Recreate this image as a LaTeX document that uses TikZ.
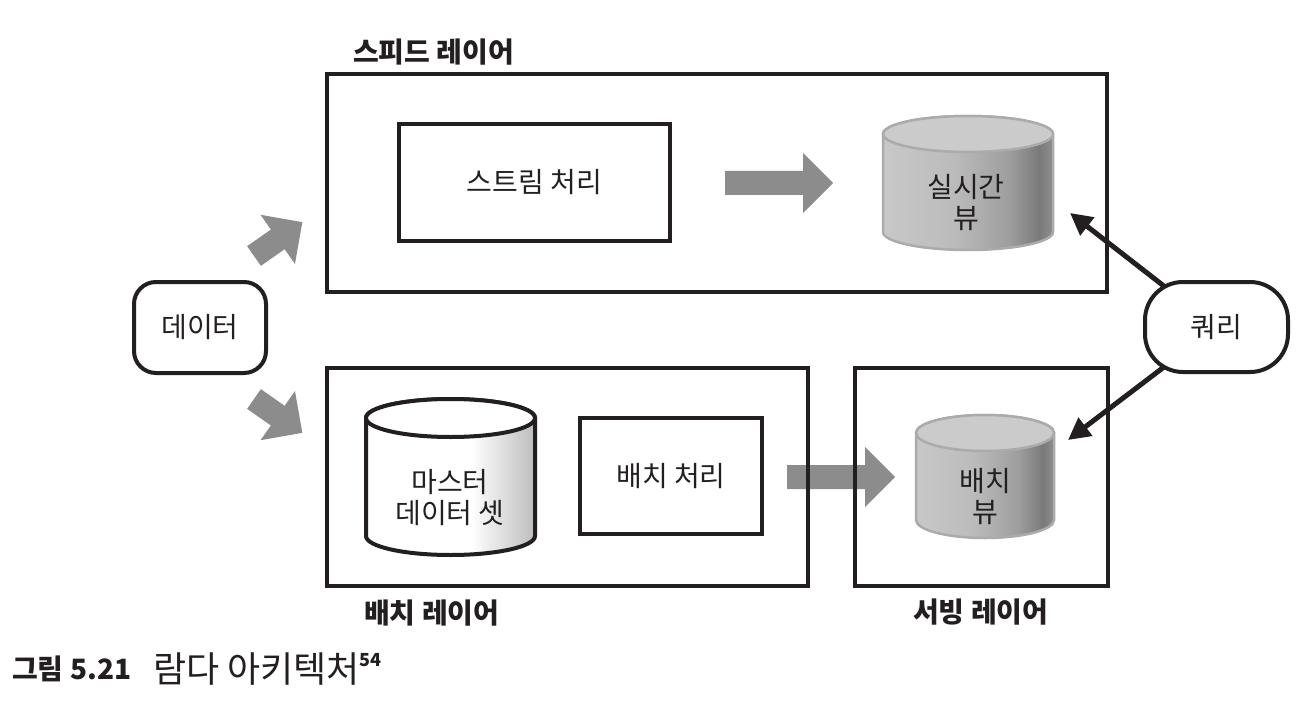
\documentclass[tikz,border=0pt]{standalone}
\usepackage{fontspec}
\setmainfont{Noto Sans CJK KR}
\usetikzlibrary{arrows.meta,backgrounds}
\definecolor{ink}{HTML}{231F20}
\definecolor{garrow}{HTML}{8C8C8C}
\definecolor{cA}{HTML}{C8C8C8}
\definecolor{cB}{HTML}{BBBBBB}
\definecolor{cC}{HTML}{9E9E9E}
\definecolor{cD}{HTML}{7A7A7A}
\definecolor{cE}{HTML}{8E8E8E}
\definecolor{cW}{HTML}{BDBDBD}
\definecolor{ctop}{HTML}{CBCBCB}
\definecolor{cedge}{HTML}{ABABAB}
\pgfdeclarehorizontalshading{greycyl}{100bp}{color(0bp)=(cA); color(25bp)=(cA); color(46bp)=(cB); color(62bp)=(cC); color(71bp)=(cD); color(75bp)=(cE); color(100bp)=(cE)}
\pgfdeclarehorizontalshading{whitecyl}{100bp}{color(0bp)=(white); color(25bp)=(white); color(56bp)=(white); color(75bp)=(cW); color(100bp)=(cW)}
\newcommand\bodyfont{\fontsize{28}{31}\selectfont}
\newcommand\lblfont{\bfseries\fontsize{28}{31}\selectfont}
\newcommand\drawcyl[6]{%
  \path[#6body] ({#1-#4},#2) -- ({#1-#4},#3)
    arc[start angle=180,end angle=360,x radius=#4pt,y radius=#5pt]
    -- ({#1+#4},#2)
    arc[start angle=0,end angle=180,x radius=#4pt,y radius=#5pt] -- cycle;
  \path[#6top] (#1,#2) ellipse[x radius=#4pt,y radius=#5pt];
}
\newcommand\blockarrow[4]{%
  \begin{scope}[shift={(#1,#2)},rotate=#3]
    \fill[garrow] (0,-12) -- ({#4-30},-12) -- ({#4-30},-30) -- (#4,0)
      -- ({#4-30},30) -- ({#4-30},12) -- (0,12) -- cycle;
  \end{scope}}
\tikzset{
  layerbox/.style={draw=ink,line width=4pt,rectangle,inner sep=0pt},
  procbox/.style={draw=ink,line width=4pt,rectangle,align=center,font=\bodyfont,text=ink},
  cyltext/.style={align=center,font=\bodyfont,text=ink,inner sep=0pt},
  lbl/.style={font=\lblfont,text=ink,inner sep=0pt,anchor=west},
  gcylbody/.style={shading=greycyl,draw=cedge,line width=2.5pt},
  gcyltop/.style={fill=ctop,draw=cedge,line width=2.5pt},
  wcylbody/.style={shading=whitecyl,draw=ink,line width=4pt},
  wcyltop/.style={fill=white,draw=ink,line width=4pt},
  qarrow/.style={draw=ink,line width=5pt,-{Triangle[length=22pt,width=22pt]}},
  roundbox/.style={draw=ink,fill=white,line width=4pt,align=center,font=\bodyfont,text=ink}
}
\begin{document}
\begin{tikzpicture}[x=1pt,y=-1pt]
\useasboundingbox (0,0) rectangle (1306,714);
\begin{pgfonlayer}{background}
\fill[white] (0,0) rectangle (1306,714);
\end{pgfonlayer}
% grey block arrows
\blockarrow{725}{183}{0}{108}
\blockarrow{787}{477}{0}{108}
\blockarrow{254}{256}{35}{59}
\blockarrow{254}{399}{-35}{59}
% layer frames
\node[layerbox,minimum width=780pt,minimum height=218pt] (speed) at (717,183) {};
\node[layerbox,minimum width=481pt,minimum height=218pt] (batch) at (567.5,477) {};
\node[layerbox,minimum width=253pt,minimum height=218pt] (serving) at (981.5,477) {};
% labels
\node[lbl] (speedlbl) at (353,52.5) {스피드 레이어};
\node[lbl] (batchlbl) at (364,613) {배치 레이어};
\node[lbl] (servlbl) at (913,612.5) {서빙 레이어};
% process boxes
\node[procbox,minimum width=271pt,minimum height=117pt] (stream) at (534.5,182.5) {스트림 처리};
\node[procbox,minimum width=182pt,minimum height=116pt] (batchproc) at (671,476) {배치 처리};
% cylinders
\drawcyl{968}{134}{232}{85}{18}{gcyl}
\node[cyltext] (rtv) at (966,203) {실시간\\뷰};
\drawcyl{985}{433}{520}{69}{18}{gcyl}
\node[cyltext] (bv) at (985,497) {배치\\뷰};
\drawcyl{450.5}{418}{536}{84.5}{19}{wcyl}
\node[cyltext] (master) at (450,498) {마스터\\데이터 셋};
% data and query
\node[roundbox,rounded corners=22pt,minimum width=132pt,minimum height=91pt] (data) at (200,327.5) {데이터};
\node[roundbox,rounded corners=38pt,minimum width=143pt,minimum height=90pt] (query) at (1216.5,327) {쿼리};
\coordinate (rtvin) at (1070,213);
\coordinate (bvin) at (1068,440);
\begin{pgfonlayer}{background}
\draw[qarrow] (query.center) -- (rtvin);
\draw[qarrow] (query.center) -- (bvin);
\end{pgfonlayer}
% caption
\node[anchor=west,inner sep=0pt,text=ink,font=\bfseries\fontsize{28}{34}\selectfont] (capnum) at (12,669) {그림 5.21};
\node[anchor=west,inner sep=0pt,text=ink,font=\fontsize{36}{42}\selectfont] (captitle) at (153,669) {람다 아키텍처\raisebox{0.45em}{\bfseries\fontsize{18}{18}\selectfont 54}};
\end{tikzpicture}
\end{document}
